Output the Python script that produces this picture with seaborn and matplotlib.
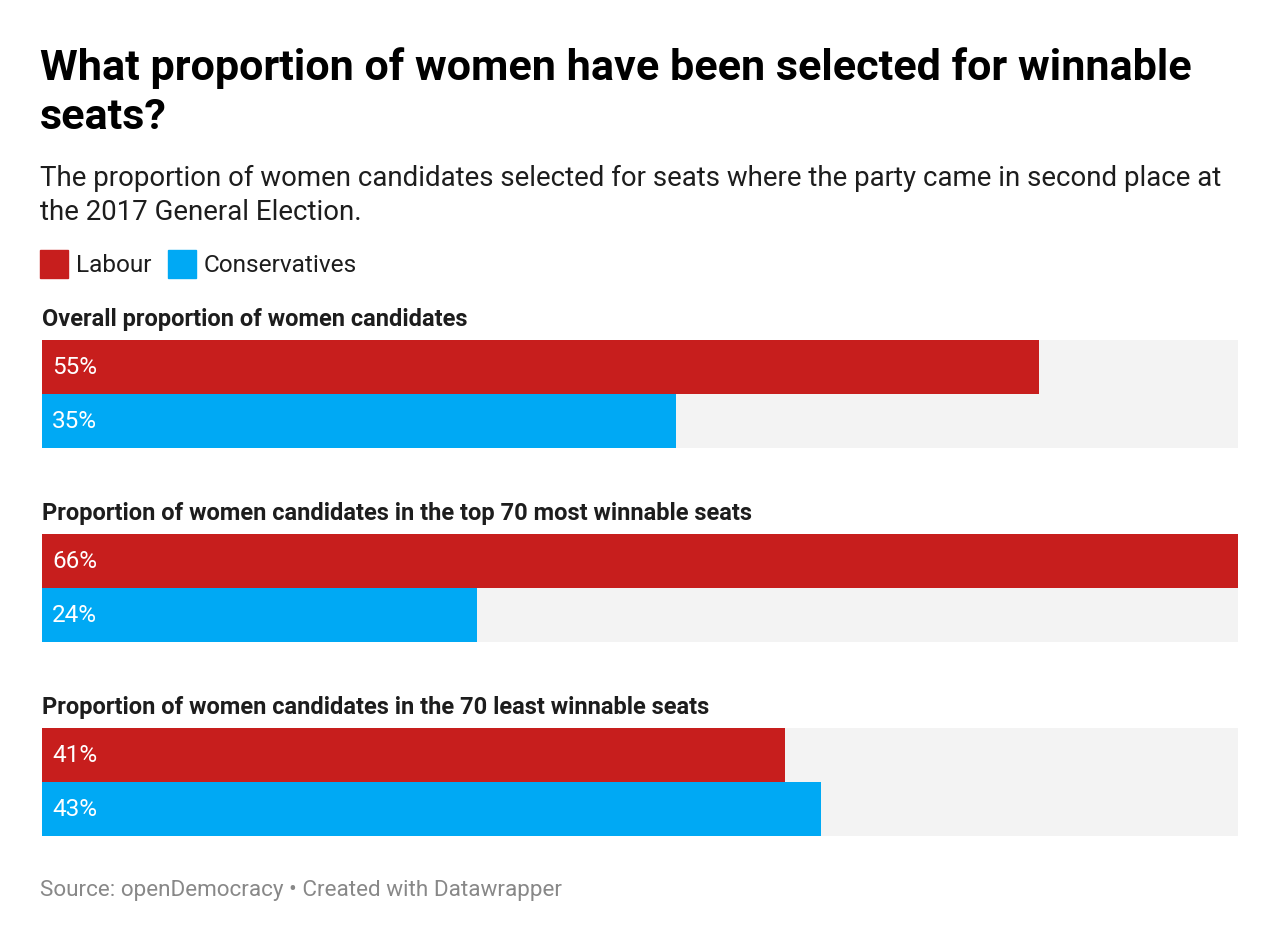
import matplotlib.pyplot as plt
import pandas as pd
import seaborn as sns
from matplotlib.patches import Rectangle

# data
parties = ["Labour", "Conservatives"]
panel_titles = [
    "Overall proportion of women candidates",
    "Proportion of women candidates in the top 70 most winnable seats",
    "Proportion of women candidates in the 70 least winnable seats",
]
labour = [55, 66, 41]
conservatives = [35, 24, 43]

colors = {"Labour": "#c71e1d", "Conservatives": "#00a9f4"}
W, H = 1280, 942

sns.set_theme(style="white")
plt.rcParams["font.family"] = ["Roboto", "DejaVu Sans"]


def fy(px):
    return 1 - px / H


fig = plt.figure(figsize=(W / 100, H / 100), dpi=100)
fig.patch.set_facecolor("white")

fig.text(40 / W, fy(80), "What proportion of women have been selected for winnable",
         fontsize=31.1, fontweight="bold", color="#000000")
fig.text(40 / W, fy(129), "seats?", fontsize=31.1, fontweight="bold", color="#000000")
fig.text(40 / W, fy(186), "The proportion of women candidates selected for seats where the party came in second place at",
         fontsize=19.9, color="#1d1d1d")
fig.text(40 / W, fy(220), "the 2017 General Election.", fontsize=19.9, color="#1d1d1d")

# legend
for p, lx in zip(parties, [40, 168]):
    fig.patches.append(Rectangle((lx / W, fy(278)), 28 / W, 28 / H, transform=fig.transFigure,
                                 color=colors[p], zorder=3))
    fig.text((lx + 36) / W, fy(272), p, fontsize=17.6, color="#1d1d1d")

tops = [340, 534, 728]
for i, top in enumerate(tops):
    df = pd.DataFrame({"party": parties, "value": [labour[i], conservatives[i]]})
    ax = fig.add_axes([42 / W, fy(top + 108), 1196 / W, 108 / H])
    ax.add_patch(Rectangle((0, -0.5), 66, 2, color="#f3f3f3", zorder=0))
    sns.barplot(data=df, x="value", y="party", hue="party", palette=colors,
                orient="h", width=1.0, legend=False, ax=ax, saturation=1, linewidth=0)
    ax.set_xlim(0, max(labour + conservatives))
    ax.set_ylim(1.5, -0.5)
    ax.set_axis_off()
    for j, v in enumerate(df["value"]):
        ax.text(0.55, j, f"{v}%", va="center", ha="left", color="white", fontsize=17.5)
    fig.text(42 / W, fy(top - 14), panel_titles[i], fontsize=17, fontweight="bold", color="#1d1d1d")

fig.text(40 / W, fy(896), "Source: openDemocracy \u2022 Created with Datawrapper",
         fontsize=16.2, color="#888888")

fig.savefig("out.png", dpi=100)
